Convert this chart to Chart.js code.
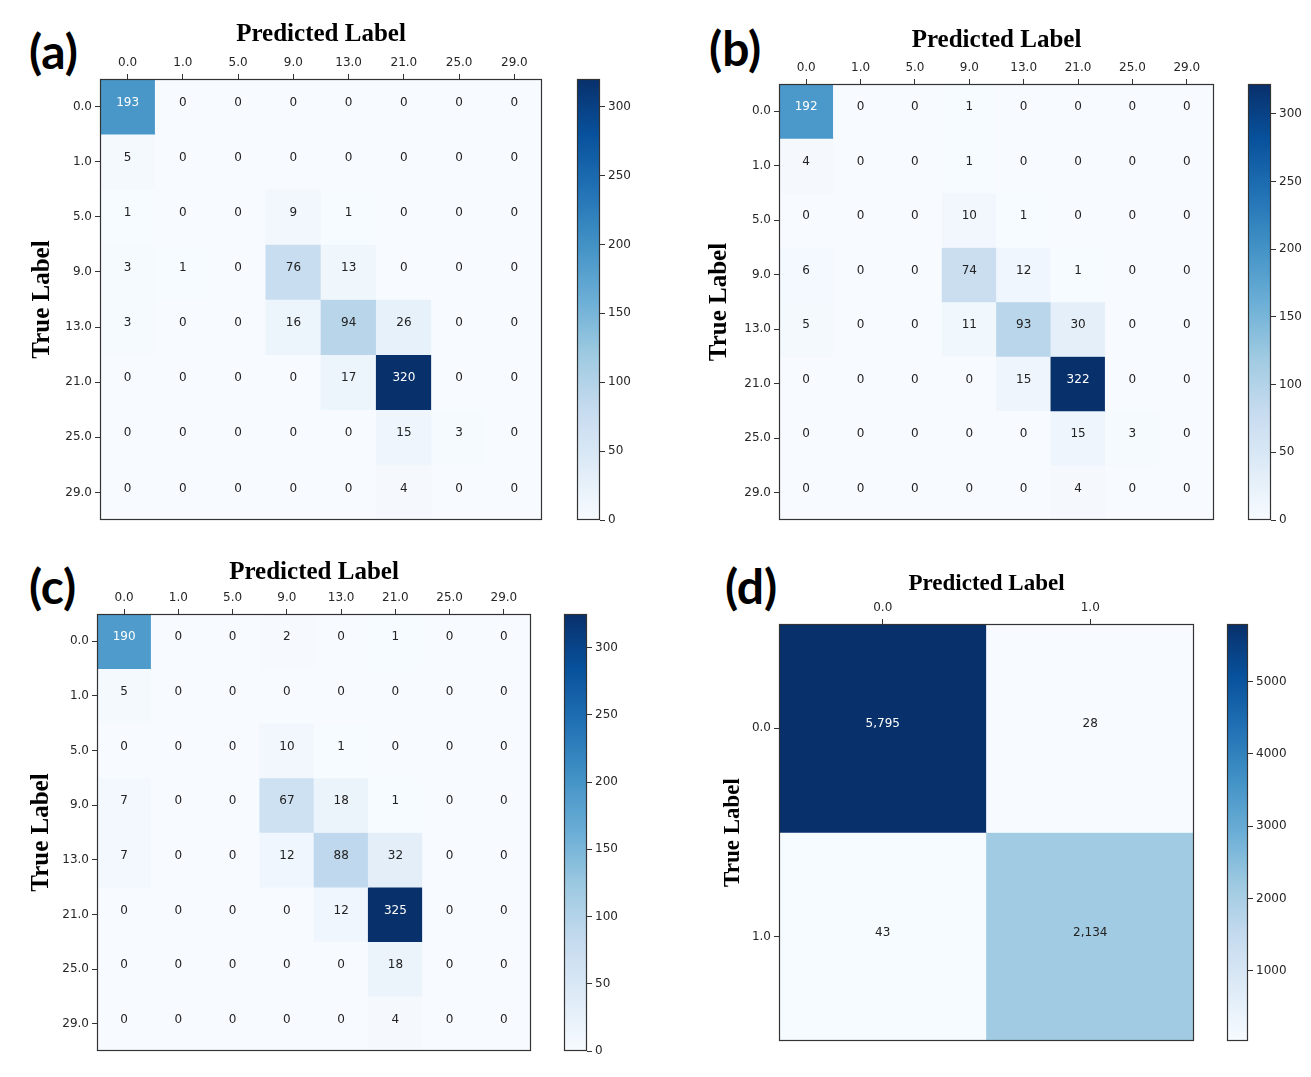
<!DOCTYPE html>
<html lang="en">
<head>
<meta charset="UTF-8">
<title>Confusion matrices</title>
<script src="https://cdn.jsdelivr.net/npm/chart.js"></script>
<style>
  body { margin: 0; background: #fff; }
  #page { position: relative; width: 1311px; height: 1077px; overflow: hidden; background: #fff; }
  canvas { position: absolute; }
  .tag { position: absolute; font-family: Lato, "Open Sans", sans-serif; font-weight: 700; font-size: 48px; line-height: 1; color: #000; }
</style>
</head>
<body>
<div id="page">
  <div class="tag" style="left:29px;top:27px">(a)</div>
  <div class="tag" style="left:709px;top:24px">(b)</div>
  <div class="tag" style="left:29px;top:562px">(c)</div>
  <div class="tag" style="left:725px;top:562px">(d)</div>
</div>

<script>
// class labels
const classLabels = ['0.0', '1.0', '5.0', '9.0', '13.0', '21.0', '25.0', '29.0'];
const binaryLabels = ['0.0', '1.0'];

// confusion matrices (rows = true label, cols = predicted label)
const matrixA = [
  [193, 0, 0, 0, 0, 0, 0, 0],
  [5, 0, 0, 0, 0, 0, 0, 0],
  [1, 0, 0, 9, 1, 0, 0, 0],
  [3, 1, 0, 76, 13, 0, 0, 0],
  [3, 0, 0, 16, 94, 26, 0, 0],
  [0, 0, 0, 0, 17, 320, 0, 0],
  [0, 0, 0, 0, 0, 15, 3, 0],
  [0, 0, 0, 0, 0, 4, 0, 0]
];
const matrixB = [
  [192, 0, 0, 1, 0, 0, 0, 0],
  [4, 0, 0, 1, 0, 0, 0, 0],
  [0, 0, 0, 10, 1, 0, 0, 0],
  [6, 0, 0, 74, 12, 1, 0, 0],
  [5, 0, 0, 11, 93, 30, 0, 0],
  [0, 0, 0, 0, 15, 322, 0, 0],
  [0, 0, 0, 0, 0, 15, 3, 0],
  [0, 0, 0, 0, 0, 4, 0, 0]
];
const matrixC = [
  [190, 0, 0, 2, 0, 1, 0, 0],
  [5, 0, 0, 0, 0, 0, 0, 0],
  [0, 0, 0, 10, 1, 0, 0, 0],
  [7, 0, 0, 67, 18, 1, 0, 0],
  [7, 0, 0, 12, 88, 32, 0, 0],
  [0, 0, 0, 0, 12, 325, 0, 0],
  [0, 0, 0, 0, 0, 18, 0, 0],
  [0, 0, 0, 0, 0, 4, 0, 0]
];
const matrixD = [
  [5795, 28],
  [43, 2134]
];

// colorbar tick labels
const colorbarTicks = [0, 50, 100, 150, 200, 250, 300];
const binaryColorbarTicks = [1000, 2000, 3000, 4000, 5000];

// matplotlib "Blues" colormap stops
const bluesStops = ['#f7fbff', '#deebf7', '#c6dbef', '#9ecae1', '#6baed6', '#4292c6', '#2171b5', '#08519c', '#08306b'];

function hexToRgb(h) {
  return [parseInt(h.slice(1, 3), 16), parseInt(h.slice(3, 5), 16), parseInt(h.slice(5, 7), 16)];
}

function blues(t) {
  t = Math.max(0, Math.min(1, t));
  const pos = t * (bluesStops.length - 1);
  const i = Math.min(Math.floor(pos), bluesStops.length - 2);
  const f = pos - i;
  const a = hexToRgb(bluesStops[i]), b = hexToRgb(bluesStops[i + 1]);
  const c = a.map((v, k) => Math.round(v + (b[k] - v) * f));
  return `rgb(${c[0]},${c[1]},${c[2]})`;
}

const tickFont = { family: '"DejaVu Sans", sans-serif', size: 12 };
const tickColor = '#262626';
const frameColor = '#333333';

function addCanvas(box) {
  const c = document.createElement('canvas');
  c.width = box.right - box.left;
  c.height = box.bottom - box.top;
  c.style.left = box.left + 'px';
  c.style.top = box.top + 'px';
  document.getElementById('page').appendChild(c);
  return c;
}

// frame around the plot area
const framePlugin = {
  id: 'frame',
  afterDraw(chart) {
    const a = chart.chartArea, ctx = chart.ctx;
    ctx.save();
    ctx.strokeStyle = frameColor;
    ctx.lineWidth = 1.2;
    ctx.strokeRect(Math.round(a.left) + 0.5, Math.round(a.top) + 0.5,
      Math.round(a.right - a.left) - 1, Math.round(a.bottom - a.top) - 1);
    ctx.restore();
  }
};

// counts written in each cell (sit a little above the cell centre, as in the original)
const cellTextPlugin = {
  id: 'cellText',
  afterDatasetsDraw(chart) {
    const ctx = chart.ctx;
    const thresh = chart.options.plugins.cellText.threshold;
    ctx.save();
    ctx.font = '12px "DejaVu Sans", sans-serif';
    ctx.textAlign = 'center';
    ctx.textBaseline = 'middle';
    chart.data.datasets.forEach((ds, di) => {
      chart.getDatasetMeta(di).data.forEach((el, i) => {
        const v = ds.counts[i];
        const p = el.getCenterPoint();
        ctx.fillStyle = v > thresh ? '#ffffff' : '#222222';
        ctx.fillText(v.toLocaleString('en-US'), p.x, p.y - 4);
      });
    });
    ctx.restore();
  }
};

function drawMatrix(labels, matrix, box, area, t) {
  const canvas = addCanvas(box);
  const n = labels.length;
  const flat = matrix.flat();
  const vmin = Math.min(...flat), vmax = Math.max(...flat);

  const datasets = matrix.map((row, r) => ({
    data: row.map(() => [r, r + 1]),
    counts: row,
    backgroundColor: row.map(v => blues((v - vmin) / (vmax - vmin))),
    borderWidth: 0,
    barPercentage: 1,
    categoryPercentage: 1,
    grouped: false
  }));

  new Chart(canvas.getContext('2d'), {
    type: 'bar',
    data: { labels: labels, datasets: datasets },
    options: {
      responsive: false,
      animation: false,
      devicePixelRatio: 1,
      events: [],
      layout: { padding: { left: 0, top: 0, right: box.right - area.right, bottom: box.bottom - area.bottom } },
      plugins: {
        legend: { display: false },
        tooltip: { enabled: false },
        cellText: { threshold: (vmax + vmin) / 2 }
      },
      scales: {
        x: {
          type: 'category',
          position: 'top',
          offset: true,
          grid: { drawOnChartArea: false, drawTicks: true, tickLength: 5, tickColor: frameColor, offset: false },
          border: { display: false },
          ticks: { font: tickFont, color: tickColor, padding: 4, maxRotation: 0, autoSkip: false },
          title: {
            display: true, text: 'Predicted Label', color: '#000',
            font: { family: '"Liberation Serif", "Times New Roman", serif', weight: 'bold', size: t.size, lineHeight: 1.2 },
            padding: { top: t.xPad, bottom: 0 }
          },
          afterFit: s => { s.height = area.top - box.top; s.paddingLeft = 0; s.paddingRight = 0; }
        },
        y: {
          type: 'linear',
          min: 0,
          max: n,
          reverse: true,
          afterBuildTicks: s => { s.ticks = labels.map((_, i) => ({ value: i + 0.5 })); },
          grid: { drawOnChartArea: false, drawTicks: true, tickLength: 5, tickColor: frameColor },
          border: { display: false },
          ticks: { font: tickFont, color: tickColor, padding: 3, autoSkip: false, callback: v => labels[Math.floor(v)] },
          title: {
            display: true, text: 'True Label', color: '#000',
            font: { family: '"Liberation Serif", "Times New Roman", serif', weight: 'bold', size: t.size, lineHeight: 1.2 },
            padding: { top: t.yPad, bottom: 0 }
          },
          afterFit: s => { s.width = area.left - box.left; s.paddingTop = 0; s.paddingBottom = 0; }
        }
      }
    },
    plugins: [cellTextPlugin, framePlugin]
  });
  return { vmin, vmax };
}

function drawColorbar(rect, vmin, vmax, ticks) {
  const box = { left: rect.left - 5, top: rect.top - 10, right: rect.right + 55, bottom: rect.bottom + 10 };
  const canvas = addCanvas(box);
  new Chart(canvas.getContext('2d'), {
    type: 'bar',
    data: {
      labels: [''],
      datasets: [{
        data: [[vmin, vmax]],
        backgroundColor: c => {
          const a = c.chart.chartArea;
          if (!a) return bluesStops[4];
          const g = c.chart.ctx.createLinearGradient(0, a.bottom, 0, a.top);
          bluesStops.forEach((col, i) => g.addColorStop(i / (bluesStops.length - 1), col));
          return g;
        },
        borderWidth: 0,
        barPercentage: 1,
        categoryPercentage: 1
      }]
    },
    options: {
      responsive: false,
      animation: false,
      devicePixelRatio: 1,
      events: [],
      layout: { padding: { left: 5, top: 10, bottom: 10, right: 0 } },
      plugins: { legend: { display: false }, tooltip: { enabled: false } },
      scales: {
        x: { display: false },
        y: {
          position: 'right',
          min: vmin,
          max: vmax,
          afterBuildTicks: s => { s.ticks = ticks.map(v => ({ value: v })); },
          grid: { drawOnChartArea: false, drawTicks: true, tickLength: 5, tickColor: frameColor },
          border: { display: false },
          ticks: { font: tickFont, color: tickColor, padding: 3, autoSkip: false, callback: v => String(v) },
          afterFit: s => { s.width = 55; s.paddingTop = 0; s.paddingBottom = 0; }
        }
      }
    },
    plugins: [framePlugin]
  });
}

// (a)
let r = drawMatrix(classLabels, matrixA,
  { left: 0, top: 0, right: 552, bottom: 530 },
  { left: 100, top: 79, right: 542, bottom: 520 },
  { size: 25, xPad: 20, yPad: 28 });
drawColorbar({ left: 577, top: 79, right: 600, bottom: 520 }, r.vmin, r.vmax, colorbarTicks);

// (b)
r = drawMatrix(classLabels, matrixB,
  { left: 680, top: 0, right: 1224, bottom: 530 },
  { left: 779, top: 84, right: 1214, bottom: 520 },
  { size: 25, xPad: 26, yPad: 25 });
drawColorbar({ left: 1248, top: 84, right: 1271, bottom: 520 }, r.vmin, r.vmax, colorbarTicks);

// (c)
r = drawMatrix(classLabels, matrixC,
  { left: 0, top: 535, right: 541, bottom: 1062 },
  { left: 97, top: 614, right: 531, bottom: 1051 },
  { size: 25, xPad: 23, yPad: 27 });
drawColorbar({ left: 564, top: 614, right: 587, bottom: 1051 }, r.vmin, r.vmax, colorbarTicks);

// (d)
r = drawMatrix(binaryLabels, matrixD,
  { left: 680, top: 540, right: 1204, bottom: 1052 },
  { left: 779, top: 624, right: 1194, bottom: 1041 },
  { size: 23, xPad: 30, yPad: 39 });
drawColorbar({ left: 1227, top: 624, right: 1248, bottom: 1041 }, r.vmin, r.vmax, binaryColorbarTicks);
</script>
</body>
</html>
